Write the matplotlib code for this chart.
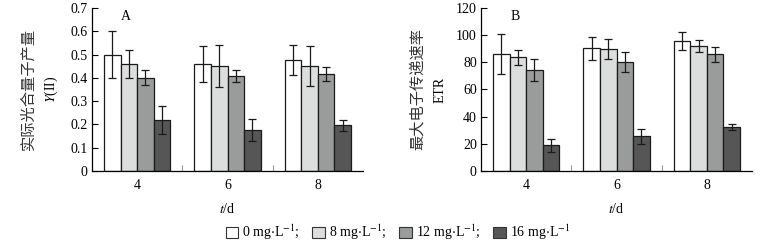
import matplotlib
matplotlib.use('Agg')
import matplotlib.pyplot as plt
import matplotlib.patches as patches
import numpy as np

plt.rcParams['font.family'] = ['Liberation Serif', 'Noto Sans CJK SC']
plt.rcParams['mathtext.fontset'] = 'stix'

days = ['4', '6', '8']
doses = ['0', '8', '12', '16']
colors = ['#ffffff', '#dcdedd', '#9a9c9b', '#575656']

yii_mean = [[0.50, 0.46, 0.40, 0.22],
            [0.46, 0.45, 0.407, 0.176],
            [0.476, 0.451, 0.416, 0.197]]
yii_err = [[0.10, 0.06, 0.032, 0.06],
           [0.076, 0.09, 0.027, 0.048],
           [0.065, 0.084, 0.03, 0.024]]

etr_mean = [[86.2, 83.7, 74.3, 18.8],
            [90.4, 89.6, 80.2, 25.4],
            [95.6, 91.9, 85.9, 32.6]]
etr_err = [[14.5, 5.5, 8.4, 4.8],
           [8.5, 7.3, 7.2, 5.5],
           [6.7, 4.2, 5.3, 2.1]]


def draw_panel(ax, mean, err, ymax, ystep, yfmt, letter, ylab1, ylab2):
    mean = np.array(mean)
    err = np.array(err)
    x = np.arange(len(days))
    w = 0.183
    for j in range(len(doses)):
        xs = x + (j - 1.5) * w
        ax.bar(xs, mean[:, j], width=w, color=colors[j], edgecolor='#1a1a1a',
               linewidth=0.9, yerr=err[:, j], capsize=3,
               error_kw=dict(elinewidth=0.9, capthick=0.9, ecolor='#1a1a1a'))
    ax.set_xlim(-0.5, 2.5)
    ax.set_ylim(0, ymax)
    ticks = np.arange(0, ymax + ystep / 2, ystep)
    ax.set_yticks(ticks)
    ax.set_yticklabels([yfmt(v) for v in ticks])
    ax.set_xticks([0.5, 1.5])
    ax.set_xticklabels([])
    ax.set_xticks(x, minor=True)
    ax.set_xticklabels(days, minor=True)
    ax.tick_params(axis='x', which='major', direction='in', length=4, color='#999999')
    ax.tick_params(axis='x', which='minor', length=0, labelsize=10, pad=6)
    ax.tick_params(axis='y', direction='in', length=4, labelsize=10, pad=3)
    for s in ['top', 'right']:
        ax.spines[s].set_visible(False)
    for s in ['left', 'bottom']:
        ax.spines[s].set_linewidth(0.9)
    ax.text(0.125, 0.95, letter, transform=ax.transAxes, fontsize=10,
            ha='center', va='center')
    ax.set_xlabel('$t$/d', fontsize=10, labelpad=7)
    ax.text(-0.235, 0.5, ylab1, transform=ax.transAxes, rotation=90,
            fontsize=11, ha='center', va='center', color='#333333')
    ax.text(-0.15, 0.5, ylab2, transform=ax.transAxes, rotation=90,
            fontsize=10, ha='center', va='center')


fig = plt.figure(figsize=(7.65, 2.46), dpi=100)
ax1 = fig.add_axes([0.1203, 0.305, 0.3542, 0.6625])
ax2 = fig.add_axes([0.6288, 0.305, 0.3542, 0.6625])

draw_panel(ax1, yii_mean, yii_err, 0.7, 0.1,
           lambda v: '0' if v == 0 else f'{v:.1f}', 'A',
           '实际光合量子产量', '$Y$(II)')
draw_panel(ax2, etr_mean, etr_err, 120, 20,
           lambda v: f'{v:.0f}', 'B',
           '最大电子传递速率', 'ETR')

handles = [patches.Patch(facecolor=c, edgecolor='#333333', linewidth=0.8) for c in colors]
labels = [d + r' mg$\cdot$L$^{-1}$' + (';' if i < 3 else '') for i, d in enumerate(doses)]
fig.legend(handles, labels, loc='center', bbox_to_anchor=(0.52, 0.055), ncol=4,
           frameon=False, fontsize=10, handlelength=0.9, handleheight=0.9,
           handletextpad=0.3, columnspacing=0.9)

fig.savefig('out.png', dpi=100)
